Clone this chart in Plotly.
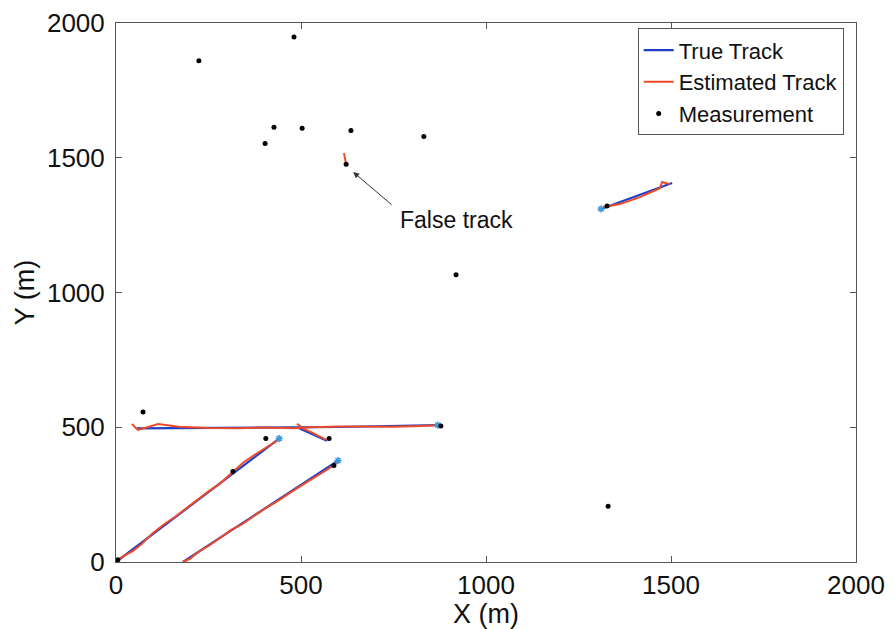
import plotly.graph_objects as go

# Measurements
meas_x = [224, 481, 427, 503, 403, 635, 832, 622, 919, 1327, 1330, 73, 878, 405, 576, 589, 316, 5]
meas_y = [1860, 1948, 1613, 1609, 1553, 1601, 1579, 1476, 1066, 1321, 207, 557, 505, 458, 458, 358, 336, 8]

# True tracks
trueA_x = [57, 300, 600, 870]
trueA_y = [496, 498, 501, 508]
trueB_x = [492, 570]
trueB_y = [498, 450]
trueC_x = [0, 441]
trueC_y = [0, 458]
trueD_x = [181, 600]
trueD_y = [0, 376]
trueE_x = [1311, 1503]
trueE_y = [1310, 1406]

# Estimated tracks
estA_x = [43, 59, 114, 170, 250, 330, 400, 480, 530, 600, 680, 750, 820, 870]
estA_y = [512, 490, 512, 502, 497, 496, 499, 496, 500, 503, 503, 502, 505, 507]
estB_x = [489, 508, 530, 555, 568]
estB_y = [513, 494, 480, 462, 453]
estC_x = [0, 20, 45, 70, 100, 130, 160, 190, 220, 250, 280, 316, 345, 375, 400, 425, 441]
estC_y = [2, 22, 40, 68, 108, 140, 168, 200, 232, 262, 290, 336, 370, 398, 420, 440, 455]
estD_x = [181, 200, 225, 250, 280, 310, 340, 370, 400, 430, 460, 490, 520, 550, 575, 600]
estD_y = [0, 12, 40, 60, 88, 118, 140, 168, 196, 220, 248, 274, 300, 326, 346, 372]
estE_x = [1316, 1362, 1416, 1470, 1476, 1497]
estE_y = [1317, 1328, 1354, 1387, 1410, 1402]
estF_x = [616, 622]
estF_y = [1517, 1476]

# Track end markers (true track)
star_x = [441, 600, 1311, 870]
star_y = [458, 376, 1310, 508]

BLUE = "#1f3fc4"
RED = "#ee4a2a"
FONT = "Liberation Sans, Arial, sans-serif"

fig = go.Figure()

true_sets = [(trueA_x, trueA_y), (trueB_x, trueB_y), (trueC_x, trueC_y), (trueD_x, trueD_y), (trueE_x, trueE_y)]
for i, (xs, ys) in enumerate(true_sets):
    fig.add_trace(go.Scatter(x=xs, y=ys, mode="lines", line=dict(color=BLUE, width=2.2),
                             name="True Track", legendgroup="t", showlegend=(i == 0)))

est_sets = [(estA_x, estA_y), (estB_x, estB_y), (estC_x, estC_y), (estD_x, estD_y), (estE_x, estE_y), (estF_x, estF_y)]
for i, (xs, ys) in enumerate(est_sets):
    fig.add_trace(go.Scatter(x=xs, y=ys, mode="lines", line=dict(color=RED, width=2),
                             name="Estimated Track", legendgroup="e", showlegend=(i == 0)))

fig.add_trace(go.Scatter(x=star_x, y=star_y, mode="markers",
                         marker=dict(symbol="asterisk", color="#3a9ae0", size=6, line=dict(color="#3a9ae0", width=1.5)),
                         showlegend=False))

fig.add_trace(go.Scatter(x=meas_x, y=meas_y, mode="markers", name="Measurement",
                         marker=dict(color="black", size=5)))

fig.add_annotation(x=641, y=1447, ax=749, ay=1321, axref="x", ayref="y", xref="x", yref="y",
                   text="", showarrow=True, arrowhead=2, arrowsize=1.2, arrowwidth=1, arrowcolor="#333")
fig.add_annotation(x=919, y=1269, xref="x", yref="y", text="False track", showarrow=False,
                   font=dict(size=23, color="#111", family=FONT))

axis_common = dict(showgrid=False, zeroline=False, showline=True, linecolor="#555", linewidth=1,
                   mirror="ticks", ticks="inside", ticklen=6, tickcolor="#555", automargin=False,
                   ticklabeloverflow="allow",
                   tickfont=dict(size=26, color="#111", family=FONT))

fig.update_xaxes(range=[0, 2000], tickvals=[0, 500, 1000, 1500, 2000], ticklabelstandoff=0,
                 title=dict(text="X (m)", font=dict(size=27, color="#111", family=FONT), standoff=0), **axis_common)
fig.update_yaxes(range=[0, 2000], tickvals=[0, 500, 1000, 1500, 2000], ticklabelstandoff=5,
                 title=dict(text="Y (m)", font=dict(size=27, color="#111", family=FONT), standoff=4), **axis_common)

fig.update_layout(
    width=887, height=621,
    margin=dict(l=108, r=39, t=15, b=67),
    paper_bgcolor="white", plot_bgcolor="white",
    font=dict(family=FONT, color="#111"),
    legend=dict(x=0.705, y=0.99, xanchor="left", yanchor="top", bgcolor="white",
                bordercolor="#555", borderwidth=1, font=dict(size=22, family=FONT),
                tracegroupgap=0, itemwidth=30),
)

fig.write_html("out.html")
